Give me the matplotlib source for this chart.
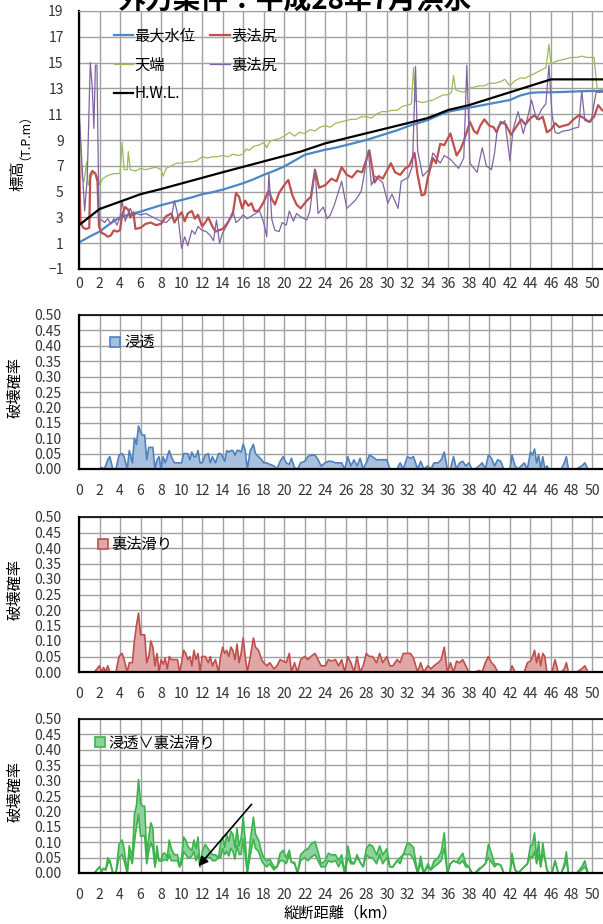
import matplotlib
matplotlib.use("Agg")
import matplotlib.pyplot as plt
import numpy as np
from matplotlib.patches import Patch

plt.rcParams['font.family'] = ['Noto Sans CJK JP', 'DejaVu Sans']

# ---- 上段：標高 ----
hwl_km = [0, 2, 4, 6, 8, 14, 21.6, 24, 28, 32, 34, 36, 38, 42, 46, 51]
hwl = [2.4, 3.65, 4.22, 4.8, 5.2, 6.5, 8.1, 8.74, 9.52, 10.3, 10.7, 11.33, 11.7, 12.7, 13.7, 13.7]

wl_km = list(range(0, 52))
wl = [1.05, 1.5, 1.9, 2.5, 3.0, 3.25, 3.45, 3.7, 3.95, 4.15,
      4.35, 4.55, 4.8, 4.95, 5.15, 5.4, 5.65, 5.95, 6.3, 6.6,
      6.95, 7.4, 7.85, 8.05, 8.25, 8.4, 8.6, 8.8, 9.0, 9.25,
      9.5, 9.75, 10.05, 10.3, 10.55, 10.9, 11.2, 11.35, 11.5, 11.65,
      11.8, 11.95, 12.1, 12.45, 12.65, 12.7, 12.7, 12.72, 12.75, 12.78,
      12.8, 12.8]

crest_km = [0, 0.3, 0.5, 0.75, 0.9, 1.2, 1.5, 1.9, 2.0, 2.3, 2.7, 3.0, 3.5, 4.0, 4.2, 4.4, 4.7, 4.8, 5.0, 5.5,
            6.0, 6.5, 7.0, 7.5, 8.0, 8.2, 8.5, 9.0, 9.5, 10.0, 10.5, 11.0, 11.5, 12.0, 12.5, 13.0, 13.5, 14.0, 14.5, 15.0,
            15.5, 16.0, 16.3, 16.6, 17.0, 17.5, 18.0, 18.3, 18.6, 19.0, 19.5, 20.0, 20.5, 21.0, 21.5, 22.0, 22.5, 23.0, 23.5, 24.0,
            24.5, 25.0, 25.5, 26.0, 26.5, 27.0, 27.5, 28.0, 28.5, 29.0, 29.5, 30.0, 30.5, 31.0, 31.5, 32.0, 32.4, 32.6, 32.8, 33.0,
            33.5, 34.0, 34.5, 35.0, 35.5, 36.0, 36.3, 36.5, 36.7, 37.0, 37.5, 38.0, 38.5, 39.0, 39.5, 40.0, 40.5, 41.0, 41.5, 42.0,
            42.5, 43.0, 43.5, 44.0, 44.5, 45.0, 45.5, 45.8, 46.0, 46.5, 47.0, 47.5, 48.0, 48.5, 49.0, 49.5, 50.0, 50.2, 50.5, 51.0]
crest = [11.3, 6.0, 5.8, 7.3, 5.5, 6.2, 6.5, 6.0, 5.5, 6.0, 6.2, 6.3, 6.4, 6.4, 8.8, 6.7, 6.7, 8.1, 6.7, 6.6,
         6.8, 6.7, 6.8, 6.9, 6.7, 6.2, 6.8, 7.0, 7.2, 7.2, 7.3, 7.3, 7.4, 7.7, 7.6, 7.7, 7.7, 7.8, 7.7, 7.9,
         7.8, 7.9, 8.3, 8.2, 8.5, 8.6, 8.8, 8.4, 8.9, 9.0, 9.1, 9.3, 9.6, 9.3, 9.6, 9.5, 9.8, 9.7, 10.0, 10.1,
         10.0, 10.3, 10.4, 10.5, 10.6, 10.6, 10.8, 10.8, 10.7, 11.0, 11.2, 11.2, 11.3, 11.3, 11.6, 11.7, 11.8, 14.6, 12.0, 12.0,
         11.9, 12.0, 12.1, 12.3, 12.5, 12.5, 12.7, 14.0, 12.9, 12.8, 12.7, 13.0, 13.1, 13.2, 13.2, 13.4, 13.4, 13.5, 13.7, 13.2,
         13.6, 13.8, 13.8, 14.0, 14.2, 14.4, 14.6, 16.4, 14.9, 15.1, 15.2, 15.3, 15.4, 15.4, 15.5, 15.4, 15.4, 15.4, 13.0, 12.9]

toe_r_km = [0, 0.15, 0.4, 0.7, 1.0, 1.1, 1.3, 1.6, 1.8, 1.95, 2.2, 2.5, 2.8, 3.1, 3.4, 3.7, 4.0, 4.2, 4.5, 4.8,
            5.0, 5.3, 5.5, 6.0, 6.5, 7.0, 7.5, 8.0, 8.5, 9.0, 9.3, 9.6, 10.0, 10.3, 10.6, 11.0, 11.3, 11.6, 12.0, 12.3,
            12.6, 13.0, 13.3, 13.6, 14.0, 14.5, 15.0, 15.3, 15.6, 15.9, 16.2, 16.5, 16.8, 17.1, 17.5, 18.0, 18.5, 18.8, 19.1, 19.5,
            20.0, 20.4, 20.8, 21.2, 21.6, 22.2, 22.6, 23.0, 23.4, 24.0, 24.6, 25.1, 25.6, 26.1, 26.6, 27.1, 27.6, 28.3, 28.8, 29.2,
            29.6, 30.0, 30.4, 30.8, 31.3, 31.8, 32.2, 32.7, 33.0, 33.4, 33.7, 34.0, 34.5, 34.8, 35.2, 35.6, 36.2, 36.8, 37.2, 37.5,
            38.1, 38.5, 38.8, 39.1, 39.5, 40.0, 40.4, 40.7, 41.1, 41.6, 42.1, 42.6, 43.1, 43.5, 44.0, 44.4, 44.8, 45.2, 45.6, 46.0,
            46.4, 46.8, 47.2, 47.7, 48.2, 48.7, 49.2, 49.7, 50.2, 50.6, 51.0]
toe_r = [7.5, 2.6, 2.2, 2.1, 2.2, 6.3, 6.6, 6.4, 5.8, 2.3, 1.8, 1.7, 1.5, 1.6, 2.0, 1.9, 2.0, 3.2, 3.8, 3.6,
         3.0, 3.4, 2.1, 2.2, 2.5, 2.6, 2.4, 2.5, 3.1, 3.3, 2.6, 3.0, 3.4, 2.7, 3.3, 3.5, 2.9, 3.2, 2.3, 2.6,
         3.0, 2.3, 1.9, 2.0, 2.1, 2.6, 3.3, 4.9, 4.6, 3.7, 4.3, 3.9, 4.1, 3.5, 3.5, 4.2, 5.1, 4.4, 4.0, 4.9,
         5.5, 5.9, 4.7, 4.0, 3.7, 4.3, 4.6, 6.7, 5.3, 5.5, 6.0, 5.8, 6.9, 6.3, 6.1, 6.6, 6.5, 8.2, 5.7, 6.2,
         6.0, 6.6, 7.2, 6.5, 6.3, 6.8, 7.0, 8.0, 6.3, 4.7, 4.8, 6.1, 7.6, 7.2, 8.7, 8.6, 9.5, 7.8, 8.3, 8.9,
         10.4, 9.7, 9.5, 10.1, 10.6, 10.1, 10.0, 9.6, 10.4, 10.2, 9.4, 10.0, 10.6, 10.2, 10.7, 10.9, 10.6, 10.8, 9.6, 9.8,
         10.3, 10.0, 10.1, 10.2, 10.6, 10.9, 10.7, 10.4, 10.8, 11.7, 11.3]

toe_l_km = [0, 0.3, 0.55, 0.8, 1.1, 1.3, 1.45, 1.6, 1.75, 1.95, 2.2, 2.5, 2.8, 3.1, 3.4, 3.7, 4.0, 4.2, 4.5, 4.8,
            5.0, 5.3, 5.6, 6.0, 6.5, 7.0, 7.5, 8.0, 8.5, 9.0, 9.3, 9.6, 9.8, 10.0, 10.3, 10.6, 11.0, 11.3, 11.6, 12.0,
            12.4, 12.8, 13.1, 13.4, 13.7, 14.0, 14.5, 15.0, 15.3, 15.6, 16.0, 16.4, 16.8, 17.2, 17.6, 18.0, 18.3, 18.5, 18.8, 19.1,
            19.5, 19.8, 20.2, 20.5, 20.9, 21.2, 21.6, 22.2, 22.5, 23.0, 23.3, 23.8, 24.2, 24.5, 24.9, 25.6, 26.1, 26.5, 26.9, 27.5,
            28.2, 28.5, 28.9, 29.6, 30.1, 30.5, 31.1, 31.4, 32.1, 32.5, 32.8, 33.0, 33.5, 34.1, 34.5, 35.2, 35.6, 36.2, 37.0, 37.5,
            37.8, 38.1, 38.8, 39.3, 39.7, 40.2, 40.5, 40.8, 41.5, 42.0, 42.3, 42.8, 43.3, 43.8, 44.1, 44.6, 45.1, 45.5, 45.8, 46.1,
            46.4, 46.7, 47.2, 47.7, 48.2, 48.7, 49.0, 49.3, 49.9, 50.4, 50.8, 51.0]
toe_l = [11.3, 7.0, 3.5, 6.0, 15.0, 13.0, 9.9, 14.8, 14.8, 2.8, 2.8, 2.6, 2.9, 2.5, 2.9, 2.4, 3.0, 4.3, 2.7, 3.3,
         3.7, 3.1, 3.3, 3.2, 3.3, 3.1, 2.9, 2.7, 2.6, 3.0, 4.3, 3.3, 2.0, 0.6, 1.5, 0.8, 2.0, 1.7, 2.3, 2.0,
         1.9, 1.6, 1.2, 2.8, 1.0, 1.8, 2.5, 3.5, 2.6, 2.8, 3.2, 2.9, 3.1, 3.3, 3.5, 2.6, 1.5, 6.4, 2.8, 2.0,
         1.9, 2.6, 2.4, 3.5, 2.7, 3.3, 3.05, 2.8, 3.5, 6.7, 3.3, 3.8, 2.9, 3.2, 4.0, 5.8, 3.7, 4.0, 4.3, 5.0,
         8.2, 5.5, 6.2, 5.7, 4.1, 4.8, 3.7, 5.8, 6.1, 7.0, 14.7, 8.2, 6.2, 6.7, 8.0, 7.2, 7.8, 7.5, 6.8, 7.6,
         14.8, 7.2, 6.5, 8.4, 7.0, 6.7, 8.0, 10.0, 10.5, 7.4, 9.8, 11.2, 9.5, 11.0, 12.1, 10.6, 11.4, 11.8, 14.8, 11.0,
         9.6, 9.5, 9.7, 9.75, 9.9, 10.0, 12.8, 10.5, 10.4, 12.7, 12.7, 12.7]

# ---- 破壊確率 ----
km_p = [0, 0.5, 1.0, 1.5, 2.0, 2.2, 2.4, 2.6, 2.8, 3.0,
        3.3, 3.6, 3.9, 4.2, 4.4, 4.7, 4.9, 5.2, 5.4, 5.6,
        5.8, 6.0, 6.2, 6.4, 6.6, 6.8, 7.0, 7.2, 7.4, 7.6,
        7.8, 8.0, 8.2, 8.4, 8.6, 8.8, 9.0, 9.3, 9.6, 9.8,
        10.0, 10.2, 10.4, 10.6, 10.8, 11.0, 11.2, 11.4, 11.6, 11.8,
        12.0, 12.3, 12.6, 12.8, 13.0, 13.3, 13.6, 13.8, 14.0, 14.2,
        14.4, 14.6, 14.8, 15.0, 15.2, 15.4, 15.6, 15.8, 16.0, 16.2,
        16.4, 16.7, 17.0, 17.2, 17.5, 17.8, 18.0, 18.3, 18.6, 19.0,
        19.3, 19.6, 19.9, 20.2, 20.5, 20.7, 21.0, 21.3, 21.6, 22.0,
        22.3, 22.6, 23.0, 23.3, 23.6, 24.0, 24.3, 24.6, 25.0, 25.3,
        25.6, 25.9, 26.2, 26.5, 26.8, 27.1, 27.4, 27.7, 28.0, 28.3,
        28.6, 29.0, 29.3, 29.6, 30.0, 30.3, 30.6, 31.0, 31.3, 31.6,
        32.0, 32.3, 32.6, 33.0, 33.3, 33.6, 34.0, 34.3, 34.6, 35.0,
        35.3, 35.6, 35.9, 36.2, 36.5, 36.8, 37.1, 37.4, 37.7, 38.0,
        38.3, 38.6, 39.0, 39.3, 39.6, 39.9, 40.2, 40.5, 40.8, 41.1,
        41.4, 41.7, 42.0, 42.2, 42.5, 42.8, 43.1, 43.4, 43.7, 44.0,
        44.2, 44.4, 44.6, 44.8, 45.0, 45.2, 45.4, 45.6, 45.8, 46.1,
        46.4, 46.7, 47.0, 47.3, 47.5, 47.7, 48.0, 48.5, 49.0, 49.3,
        49.6, 50.0, 50.5, 51.0]
p_seep = [0, 0, 0, 0, 0, 0.005, 0.0, 0.01, 0.03, 0.04,
          0.0, 0.0, 0.045, 0.05, 0.04, 0.0, 0.06, 0.02, 0.1, 0.08,
          0.14, 0.12, 0.11, 0.11, 0.03, 0.07, 0.07, 0.07, 0.0, 0.03,
          0.04, 0.0, 0.04, 0.02, 0.04, 0.06, 0.04, 0.02, 0.02, 0.02,
          0.02, 0.05, 0.05, 0.05, 0.03, 0.055, 0.04, 0.04, 0.06, 0.02,
          0.02, 0.045, 0.05, 0.02, 0.04, 0.02, 0.05, 0.05, 0.04, 0.025,
          0.06, 0.055, 0.06, 0.06, 0.045, 0.06, 0.06, 0.055, 0.08, 0.06,
          0.0, 0.06, 0.08, 0.05, 0.04, 0.03, 0.02, 0.02, 0.015, 0.01,
          0.0, 0.025, 0.04, 0.02, 0.015, 0.035, 0.005, 0.0, 0.02, 0.025,
          0.04, 0.045, 0.045, 0.03, 0.01, 0.02, 0.025, 0.025, 0.02, 0.02,
          0.02, 0.0, 0.04, 0.01, 0.03, 0.01, 0.035, 0.0, 0.02, 0.045,
          0.04, 0.03, 0.03, 0.03, 0.03, 0.0, 0.0, 0.0, 0.02, 0.0,
          0.04, 0.035, 0.04, 0.0, 0.025, 0.0, 0.01, 0.0, 0.02, 0.02,
          0.03, 0.055, 0.0, 0.0, 0.04, 0.0, 0.02, 0.025, 0.01, 0.02,
          0.0, 0.0, 0.01, 0.02, 0.0, 0.045, 0.035, 0.01, 0.03, 0.025,
          0.0, 0.0, 0.0, 0.045, 0.01, 0.0, 0.01, 0.02, 0.0, 0.055,
          0.045, 0.065, 0.02, 0.045, 0.0, 0.04, 0.0, 0.01, 0.0, 0.0,
          0.0, 0.0, 0.0, 0.02, 0.04, 0.0, 0.0, 0.0, 0.01, 0.02,
          0.0, 0.0, 0.0, 0.0]
p_slip = [0, 0, 0, 0, 0.02, 0.0, 0.015, 0.0, 0.02, 0.0,
          0.0, 0.0, 0.05, 0.06, 0.04, 0.0, 0.03, 0.03, 0.1, 0.15,
          0.19, 0.12, 0.12, 0.12, 0.03, 0.05, 0.10, 0.08, 0.02, 0.06,
          0.0, 0.04, 0.025, 0.045, 0.01, 0.05, 0.04, 0.04, 0.04, 0.0,
          0.03, 0.07, 0.06, 0.04, 0.05, 0.02, 0.07, 0.04, 0.06, 0.0,
          0.05, 0.05, 0.03, 0.05, 0.02, 0.04, 0.0, 0.05, 0.08, 0.06,
          0.07, 0.05, 0.08, 0.07, 0.04, 0.09, 0.03, 0.06, 0.11, 0.05,
          0.0, 0.05, 0.11, 0.08, 0.07, 0.04, 0.03, 0.02, 0.03, 0.01,
          0.02, 0.04, 0.035, 0.03, 0.06, 0.0, 0.03, 0.0, 0.04, 0.05,
          0.04, 0.05, 0.06, 0.04, 0.02, 0.02, 0.04, 0.035, 0.04, 0.02,
          0.04, 0.0, 0.05, 0.03, 0.0, 0.05, 0.0, 0.02, 0.06, 0.05,
          0.05, 0.03, 0.06, 0.03, 0.05, 0.02, 0.02, 0.04, 0.03, 0.06,
          0.06, 0.06, 0.045, 0.0, 0.03, 0.0, 0.02, 0.01, 0.02, 0.03,
          0.04, 0.08, 0.0, 0.03, 0.0, 0.035, 0.03, 0.04, 0.02, 0.0,
          0.0, 0.0, 0.005, 0.0, 0.03, 0.05, 0.03, 0.02, 0.0, 0.0,
          0.0, 0.0, 0.0, 0.02, 0.0, 0.0, 0.0, 0.0, 0.03, 0.035,
          0.05, 0.07, 0.03, 0.06, 0.02, 0.06, 0.05, 0.0, 0.0, 0.0,
          0.04, 0.0, 0.0, 0.01, 0.03, 0.0, 0.0, 0.0, 0.01, 0.02,
          0.0, 0.0, 0.0, 0.0]

W, H = 603, 924
XMAX = 51.07
fig = plt.figure(figsize=(W / 100, H / 100), dpi=100)


def add_ax(top, bottom):
    return fig.add_axes([79 / W, 1 - bottom / H, (W - 79) / W, (bottom - top) / H])


def style(ax, ypad):
    ax.set_xlim(0, XMAX)
    ax.set_xticks(range(0, 51, 2))
    ax.grid(True, color='#a0a0a0', lw=1.0)
    ax.set_axisbelow(True)
    ax.tick_params(length=0, labelsize=10, colors='#333333')
    ax.tick_params(axis='y', pad=ypad)
    ax.tick_params(axis='x', pad=9)
    ax.spines['right'].set_visible(False)
    ax.spines['left'].set_color('black')
    ax.spines['left'].set_linewidth(1.6)
    ax.spines['bottom'].set_color('black')
    ax.spines['bottom'].set_linewidth(1.6)


# 標高
ax1 = add_ax(11, 269)
style(ax1, 11)
ax1.set_ylim(-1, 19)
ax1.set_yticks(range(-1, 20, 2))
ax1.spines['top'].set_color('#a0a0a0')
ax1.tick_params(axis='x', pad=6)
l_wl, = ax1.plot(wl_km, wl, color='#4a86c8', lw=1.6, label='最大水位')
l_crest, = ax1.plot(crest_km, crest, color='#9bbb59', lw=0.9, label='天端')
l_r, = ax1.plot(toe_r_km, toe_r, color='#c0504d', lw=1.6, label='表法尻')
l_l, = ax1.plot(toe_l_km, toe_l, color='#8064a2', lw=0.9, label='裏法尻')
l_hwl, = ax1.plot(hwl_km, hwl, color='black', lw=1.6, label='H.W.L.')
ax1.legend(handles=[l_wl, l_crest, l_hwl, l_r, l_l], ncol=2, loc='upper left',
           bbox_to_anchor=(0.066, 0.936), frameon=False, fontsize=11,
           handlelength=1.3, handletextpad=0.05, columnspacing=1.0,
           labelspacing=0.78, borderpad=0, borderaxespad=0)

fig.text(18 / W, 1 - 176 / H, '標高', rotation=90, ha='center', va='center', fontsize=11)
fig.text(19 / W, 1 - 131 / H, '（T.P.m）', rotation=90, ha='center', va='center', fontsize=9)
fig.text(295 / W, 1.0, '外力条件：平成28年7月洪水', ha='center', va='center',
         fontsize=20, fontweight='bold')

km = np.array(km_p)
p1 = np.array(p_seep)
p2 = np.array(p_slip)
lower = np.maximum(p1, p2)
upper = 1 - (1 - p1) * (1 - p2)

panels = [(315, 469, '浸透', '#a7c0de', '#4f81bd', (0.06, 0.875)),
          (517, 672, '裏法滑り', '#dfa7a6', '#c0504d', (0.036, 0.875)),
          (719, 873, '浸透∨裏法滑り', '#8fd19e', '#3cb44b', (0.03, 0.9))]
prob_axes = []
for top, bottom, name, fc, ec, anchor in panels:
    ax = add_ax(top, bottom)
    style(ax, 13)
    ax.set_ylim(0, 0.5)
    ax.set_yticks(np.arange(0, 0.501, 0.05))
    ax.set_yticklabels(['%.2f' % v for v in np.arange(0, 0.501, 0.05)])
    ax.spines['top'].set_color('black')
    ax.spines['top'].set_linewidth(1.2)
    ax.tick_params(axis='x', pad=11)
    ax.legend(handles=[Patch(facecolor=fc, edgecolor=ec, lw=1.2, label=name)],
              loc='upper left', bbox_to_anchor=anchor, frameon=False, fontsize=11,
              handlelength=0.65, handleheight=0.65, handletextpad=0.25,
              borderpad=0, borderaxespad=0)
    fig.text(15 / W, 1 - (top + bottom) / 2 / H + 0.005, '破壊確率', rotation=90,
             ha='center', va='center', fontsize=11)
    prob_axes.append(ax)

ax2, ax3, ax4 = prob_axes
ax2.fill_between(km, 0, p1, facecolor='#a7c0de', edgecolor='none')
ax2.plot(km, p1, color='#4f81bd', lw=1.2)
ax3.fill_between(km, 0, p2, facecolor='#dfa7a6', edgecolor='none')
ax3.plot(km, p2, color='#c0504d', lw=1.2)
ax4.fill_between(km, lower, upper, facecolor='#8fd19e', edgecolor='none')
ax4.plot(km, lower, color='#3cb44b', lw=1.2)
ax4.plot(km, upper, color='#3cb44b', lw=1.2)
ax4.annotate('', xy=(11.47, 0.015), xytext=(17.0, 0.23),
             arrowprops=dict(arrowstyle='-|>', color='black', lw=1.2, mutation_scale=14))

fig.text(341 / W, 1 - 913 / H, '縦断距離（km）', ha='center', va='center', fontsize=11)

fig.savefig('out.png', dpi=100)
